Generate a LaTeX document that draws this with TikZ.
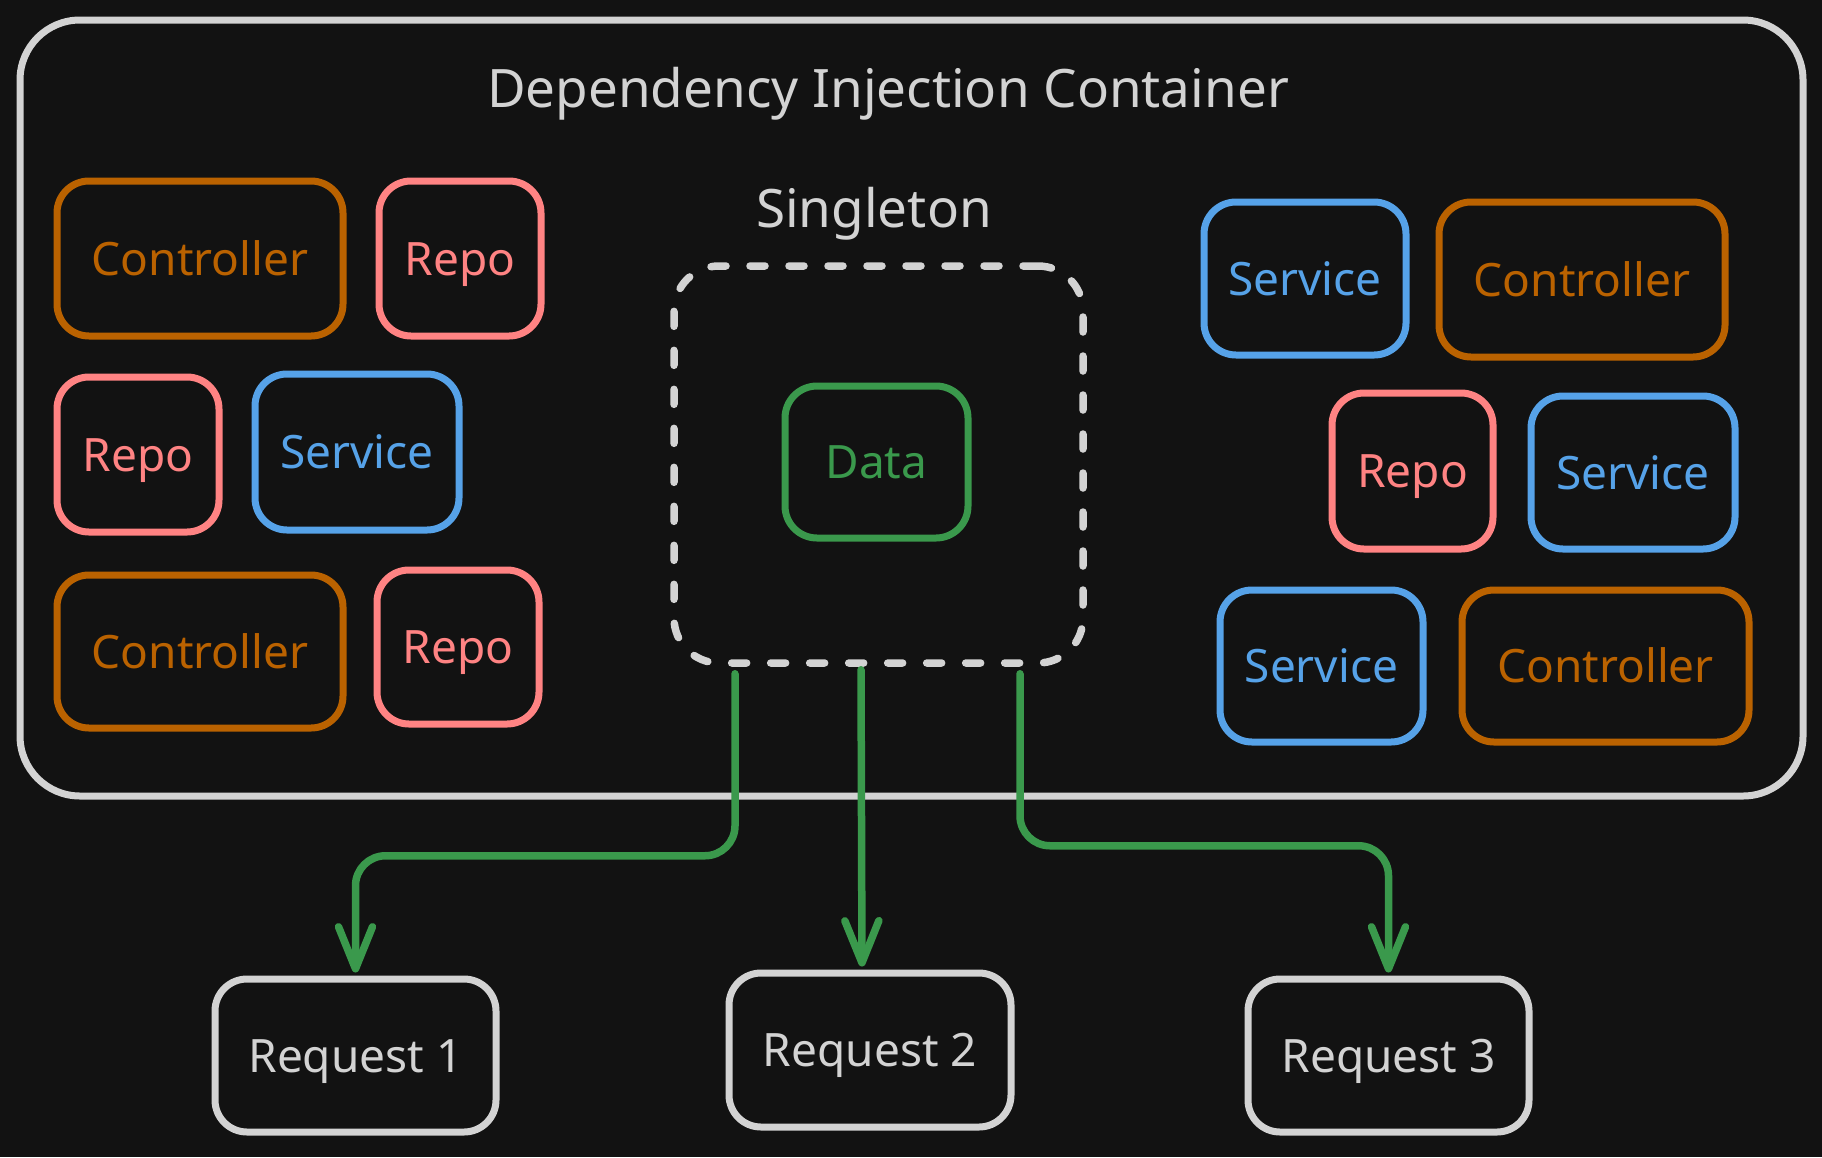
\documentclass[tikz,border=0pt]{standalone}
\usepackage{fontspec}
\setmainfont{Noto Sans}
\usetikzlibrary{arrows.meta}
\definecolor{bg}{HTML}{121212}
\definecolor{gry}{HTML}{D3D3D3}
\definecolor{org}{HTML}{BA6200}
\definecolor{pnk}{HTML}{FF8383}
\definecolor{blu}{HTML}{56A2E8}
\definecolor{grn}{HTML}{3A994C}
\tikzset{
  box/.style={draw=#1, text=#1, line width=7pt, rounded corners=32pt, inner sep=0pt,
    font=\fontsize{46}{55}\selectfont, text height=33pt, text depth=0pt},
  bigtext/.style={text=gry, inner sep=0pt, anchor=base, font=\fontsize{53}{64}\selectfont},
  arr/.style={draw=grn, line width=7.5pt, line cap=round, rounded corners=30pt,
    -{Straight Barb[length=42pt,width=34pt,round]}, shorten >=3pt},
}
\begin{document}
\begin{tikzpicture}[x=1pt,y=-1pt]
\fill[bg] (0,0) rectangle (1822,1157);
\useasboundingbox (0,0) rectangle (1822,1157);

% container
\node[draw=gry, line width=7pt, rounded corners=60pt, minimum width=1783pt, minimum height=776pt, inner sep=0pt] (ctr) at (911.5,408) {};
\node[bigtext] (title) at (888,107) {Dependency Injection Container};

% left group
\node[box=org, minimum width=286pt, minimum height=155pt] (c1) at (200,258.5) {Controller};
\node[box=pnk, minimum width=162pt, minimum height=155pt] (rp1) at (460,258.5) {Repo};
\node[box=pnk, minimum width=162pt, minimum height=155pt] (rp2) at (138,454.5) {Repo};
\node[box=blu, minimum width=204pt, minimum height=156pt] (s1) at (357,452) {Service};
\node[box=org, minimum width=286pt, minimum height=153pt] (c2) at (200,651.5) {Controller};
\node[box=pnk, minimum width=162pt, minimum height=154pt] (rp3) at (458,647) {Repo};

% singleton
\node[bigtext] (sglabel) at (874,227) {Singleton};
\node[draw=gry, line width=7.5pt, dash pattern=on 15pt off 24pt, line cap=round, rounded corners=45pt,
  minimum width=409pt, minimum height=397pt, inner sep=0pt] (sg) at (878.5,464.5) {};
\node[box=grn, minimum width=183pt, minimum height=152pt] (data) at (876.5,462) {Data};

% right group
\node[box=blu, minimum width=202pt, minimum height=153pt] (s2) at (1305,278.5) {Service};
\node[box=org, minimum width=286pt, minimum height=155pt] (c3) at (1582,279.5) {Controller};
\node[box=pnk, minimum width=161pt, minimum height=156pt] (rp4) at (1412.5,471) {Repo};
\node[box=blu, minimum width=204pt, minimum height=153pt] (s3) at (1633,472.5) {Service};
\node[box=blu, minimum width=203pt, minimum height=152pt] (s4) at (1321.5,666) {Service};
\node[box=org, minimum width=287pt, minimum height=152pt] (c4) at (1605.5,666) {Controller};

% requests
\node[box=gry, minimum width=281pt, minimum height=153pt] (r1) at (355.5,1055.5) {Request 1};
\node[box=gry, minimum width=282pt, minimum height=154pt] (r2) at (870,1050) {Request 2};
\node[box=gry, minimum width=281pt, minimum height=153pt] (r3) at (1388.5,1055.5) {Request 3};

% arrows
\draw[arr] ([xshift=-143.5pt,yshift=-7pt]sg.south) -- ++(0,182) -| (r1.north);
\draw[arr] ([xshift=-17.5pt,yshift=-3pt]sg.south) -- ([xshift=-8pt]r2.north);
\draw[arr] ([xshift=141.5pt,yshift=-7pt]sg.south) -- ++(0,172) -| (r3.north);
\end{tikzpicture}
\end{document}
